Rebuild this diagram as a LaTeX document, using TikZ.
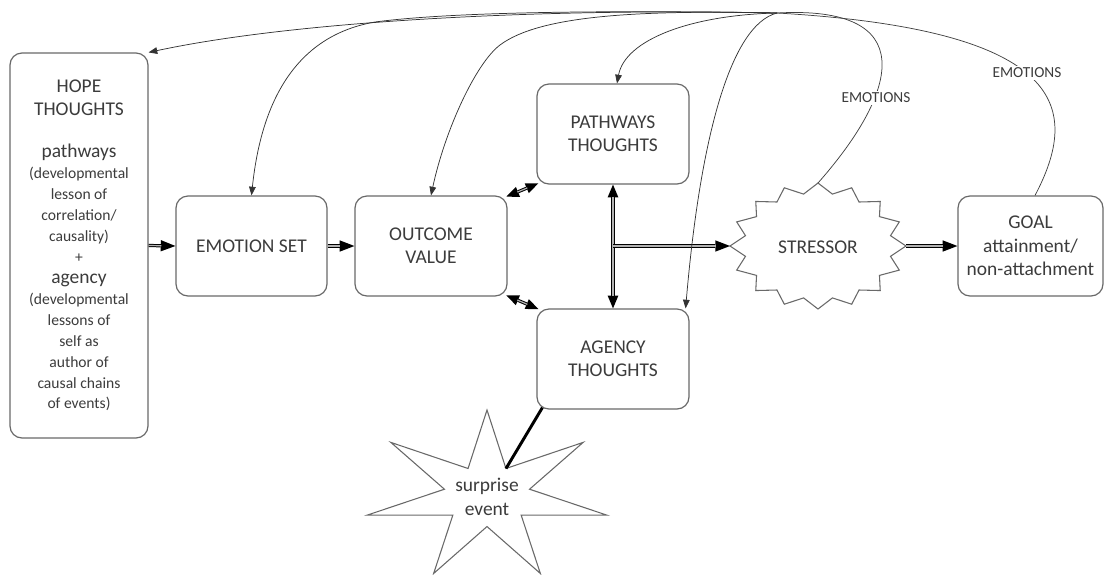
\documentclass[tikz,border=0pt]{standalone}
\usepackage{fontspec}
\setmainfont{Carlito}
\usetikzlibrary{arrows.meta,calc}
\definecolor{txt}{RGB}{60,60,60}
\definecolor{edge}{RGB}{105,105,105}
\newcommand\boxf{\fontsize{14.6pt}{17.6pt}\selectfont}
\newcommand\bigf{\fontsize{14.6pt}{15.7pt}\selectfont}
\newcommand\smf{\fontsize{11.7pt}{15.7pt}\selectfont}
\newcommand\emof{\fontsize{11.5pt}{13pt}\selectfont}
\begin{document}
\begin{tikzpicture}[x=0.75pt,y=-0.75pt,
  box/.style={draw=edge, line width=0.9pt, rounded corners=9pt, fill=white, text=txt, align=center, inner sep=0pt, font=\boxf},
  lbl/.style={text=txt, align=center, inner sep=0pt, font=\boxf},
  emolab/.style={fill=white, inner sep=1.5pt, font=\emof, text=txt},
  starline/.style={draw=edge, line width=0.8pt, fill=white},
  dblA/.style={draw=black, line width=2.4pt, -{Triangle[length=11pt,width=8.5pt,line width=0pt]},
     postaction={draw=gray!60, line width=0.9pt, -, shorten >=10.5pt}},
  dblB/.style={draw=black, line width=2.4pt, {Triangle[length=9.5pt,width=8pt,line width=0pt]}-{Triangle[length=9.5pt,width=8pt,line width=0pt]},
     postaction={draw=gray!60, line width=0.9pt, -, shorten >=9pt, shorten <=9pt}},
  fb/.style={draw=black!80, line width=0.55pt, -{Triangle[length=6.5pt,width=5pt]}},
  fbline/.style={draw=black!75, line width=0.55pt}
]
\useasboundingbox (0,0) rectangle (1104,576);

% boxes
\node[box, font=\smf, minimum width=103.5pt, minimum height=288.75pt] (hope) at (79,245.5)
  {\bigf HOPE\\[1.5pt]\bigf THOUGHTS\\[16pt]\bigf pathways\\(developmental\\lesson of\\correlation/\\causality)\\+\\\bigf agency\\(developmental\\lessons of\\self as\\author of\\causal chains\\of events)};
\node[box, minimum width=113.25pt, minimum height=75pt] (emo) at (251.5,246) {EMOTION SET};
\node[box, minimum width=114pt, minimum height=75pt] (outcome) at (431,246) {OUTCOME\\VALUE};
\node[box, minimum width=114pt, minimum height=75pt] (path) at (613,134) {PATHWAYS\\THOUGHTS};
\node[box, minimum width=114pt, minimum height=75pt] (agency) at (613,359) {AGENCY\\THOUGHTS};
\node[box, minimum width=108.75pt, minimum height=75pt] (goal) at (1030.5,246) {GOAL\\attainment/\\non-attachment};

% stressor starburst
\draw[starline] (818,183) \foreach \k in {1,...,31}{ -- ({818+88*(1-0.16*mod(\k,2))*sin(\k*11.25)}, {246-63*(1-0.16*mod(\k,2))*cos(\k*11.25)}) } -- cycle;
\node[lbl] (stressor) at (818,247) {STRESSOR};
\coordinate (sL) at (730,246);
\coordinate (sR) at (906,246);
\coordinate (sT) at (818,183);

% surprise star
\draw[starline] (487,410) \foreach \k in {1,...,13}{ -- ({487+123*(1-0.645*mod(\k,2))*sin(\k*25.714)}, {496-86*(1-0.645*mod(\k,2))*cos(\k*25.714)}) } -- cycle;
\node[lbl] (surprise) at (487,497) {surprise\\event};
\coordinate (sv) at (506,468.5);

% main connectors
\draw[dblA] (hope.east) -- (emo.west);
\draw[dblA] (emo.east) -- (outcome.west);
\draw[dblB] ([xshift=-1pt,yshift=-1pt]outcome.north east) -- ([xshift=1.5pt,yshift=1pt]path.south west);
\draw[dblB] ([xshift=-1pt,yshift=1pt]outcome.south east) -- ([xshift=1.5pt,yshift=-0.5pt]agency.north west);
\draw[dblB] (path.south) -- (agency.north);
\coordinate (br) at (613,246);
\draw[dblA] (br) -- (sL);
\draw[dblA] (sR) -- (goal.west);
\draw[line width=2.2pt] ([xshift=4.5pt,yshift=1.5pt]agency.south west) -- (sv);

% feedback curves
\coordinate (hub) at (777,13);
\draw[fb] (hub) .. controls (550,8) and (300,20) .. (hope.north east);
\draw[fb] (hub) .. controls (600,10) and (450,12) .. (375,22) .. controls (300,35) and (262,95) .. (emo.north);
\draw[fb] (hub) .. controls (640,10) and (540,15) .. (500,45) .. controls (476,63) and (445,130) .. (outcome.north);
\draw[fb] (hub) .. controls (690,15) and (625,40) .. ([xshift=3pt]path.north);
\draw[fb] (hub) .. controls (730,25) and (700,140) .. ([xshift=-3pt]agency.north east);
\draw[fbline] ([xshift=3.4pt]goal.north) .. controls (1080,110) and (1070,30) .. (hub);
\draw[fbline] (sT) .. controls (900,90) and (920,5) .. (hub);

\node[emolab] (em1) at (876,98) {EMOTIONS};
\node[emolab] (em2) at (1027,73) {EMOTIONS};
\end{tikzpicture}
\end{document}
